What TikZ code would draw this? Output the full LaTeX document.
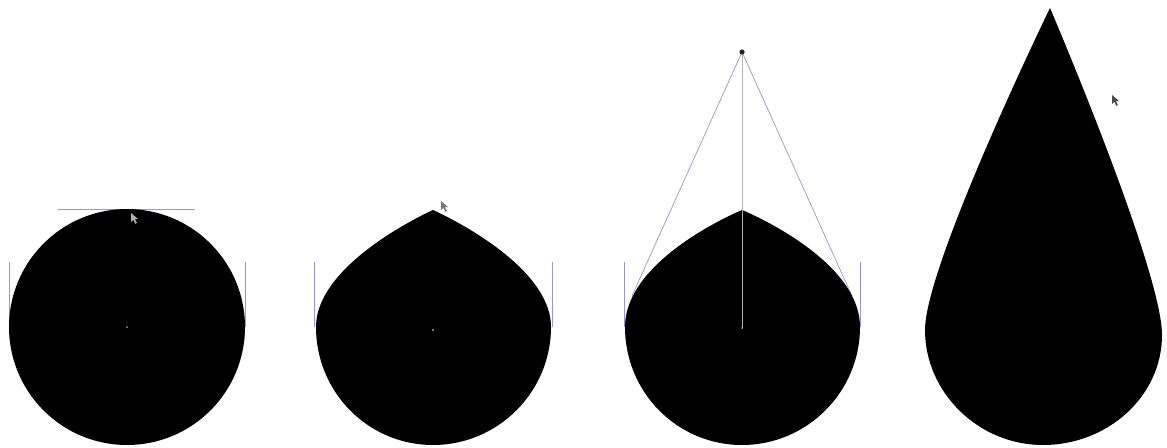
\documentclass[tikz,border=0pt]{standalone}
\definecolor{hcol}{RGB}{150,152,200}
\definecolor{ptrgray}{RGB}{120,120,120}
\tikzset{
  handle/.style={draw=hcol, line width=0.7pt},
  blob/.style={fill=black},
  centermark/.style={fill=gray!70},
}
\newcommand\mousept[3]{\fill[#3] (#1,#2) -- ++(0,9) -- ++(2.3,-2.2) -- ++(2,4) -- ++(1.6,-0.8) -- ++(-2,-3.9) -- ++(3.2,0) -- cycle;}
\begin{document}
\begin{tikzpicture}[x=1pt,y=-1pt]
\useasboundingbox (0,0) rectangle (1167,447);
\fill[white] (0,0) rectangle (1167,447);

% ---------- shape 1: circle ----------
\draw[handle] (58,209) -- (195,209);
\draw[handle] (9,262) -- (9,327);
\draw[handle] (245,262) -- (245,327);
\fill[blob] (127,327) circle[radius=118];
\fill[centermark] (127,327) circle[radius=1];
\mousept{131}{213}{gray!60}

% ---------- shape 2: corner at top ----------
\draw[handle] (314,262) -- (314,327);
\draw[handle] (552,262) -- (552,327);
\fill[blob] (316,327) .. controls (316,262) and (433,210) .. (433,210)
   .. controls (433,210) and (551,262) .. (551,327)
   .. controls (551,392) and (498,445) .. (433,445)
   .. controls (368,445) and (316,392) .. (316,327) -- cycle;
\fill[centermark] (433,330) circle[radius=1.2];
\mousept{441}{201}{ptrgray}

% ---------- shape 3: dragging the top handle ----------
\coordinate (apex3) at (742,52);
\draw[handle] (624,262) -- (624,327);
\draw[handle] (860,262) -- (860,327);
\draw[handle] (apex3) -- (632,296);
\draw[handle] (apex3) -- (852,296);
\fill[blob] (625,327) .. controls (625,258) and (742,210) .. (742,210)
   .. controls (742,210) and (860,258) .. (860,327)
   .. controls (860,392) and (807,445) .. (742,445)
   .. controls (677,445) and (625,392) .. (625,327) -- cycle;
\draw[draw=gray!60, line width=0.6pt] (apex3) -- (742,328);
\fill[centermark] (742,328) circle[radius=1];
\fill[black!85] (apex3) circle[radius=2.6];

% ---------- shape 4: teardrop ----------
\fill[blob] (1050,8) .. controls (1050,8) and (1162,270) .. (1162,335)
   .. controls (1162,396) and (1108,445) .. (1043,445)
   .. controls (978,445) and (925,392) .. (925,330)
   .. controls (925,265) and (1050,8) .. (1050,8) -- cycle;
\mousept{1112}{95}{black!70}
\end{tikzpicture}
\end{document}
